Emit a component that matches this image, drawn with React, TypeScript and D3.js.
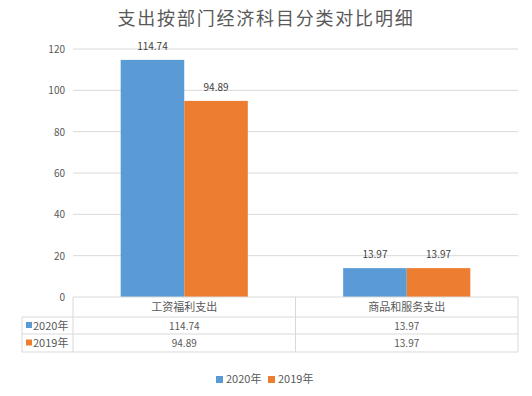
import { useEffect, useRef } from 'react'
import * as d3 from 'd3'

const title = '支出按部门经济科目分类对比明细'
const categories = ['工资福利支出', '商品和服务支出']
const seriesNames = ['2020年', '2019年']
const values2020 = [114.74, 13.97]
const values2019 = [94.89, 13.97]
const yTicks = [0, 20, 40, 60, 80, 100, 120]
const colors = ['#5b9bd5', '#ed7d31']

const FONT = '"Noto Sans CJK SC", "Noto Sans", sans-serif'

function App() {
    const ref = useRef<SVGSVGElement>(null)

    useEffect(() => {
        const svg = d3.select(ref.current)
        svg.selectAll('*').remove()

        const left = 73
        const right = 518
        const top = 49
        const bottom = 297
        const tableLeft = 22
        const rowLines = [297, 317, 334, 352]
        const series = [values2020, values2019]

        const x = d3.scaleBand().domain(categories).range([left, right])
        // Excel gap width 150% -> half a bar gap on each side of 1.5 bars
        const xInner = d3
            .scaleBand()
            .domain(seriesNames)
            .range([0, x.bandwidth()])
            .paddingOuter(0.75)
            .paddingInner(0)
        const y = d3.scaleLinear().domain([0, 120]).range([bottom, top])

        svg
            .append('text')
            .attr('x', 266)
            .attr('y', 25)
            .attr('text-anchor', 'middle')
            .style('font-family', FONT)
            .style('font-size', '18px')
            .style('letter-spacing', '1.8px')
            .style('fill', '#595959')
            .text(title)

        // grid
        svg
            .append('g')
            .selectAll('line')
            .data(yTicks.filter(d => d > 0))
            .enter()
            .append('line')
            .attr('x1', left)
            .attr('x2', right)
            .attr('y1', d => y(d))
            .attr('y2', d => y(d))
            .style('stroke', '#d9d9d9')
            .style('stroke-width', 1)

        svg
            .append('g')
            .selectAll('text')
            .data(yTicks)
            .enter()
            .append('text')
            .attr('x', 65)
            .attr('y', d => y(d) + 4)
            .attr('text-anchor', 'end')
            .style('font-family', FONT)
            .style('font-size', '10px')
            .style('fill', '#595959')
            .text(d => d)

        // bars
        series.forEach((vals, si) => {
            const g = svg.append('g')
            g.selectAll('rect')
                .data(vals)
                .enter()
                .append('rect')
                .attr('x', (d, i) => (x(categories[i]) as number) + (xInner(seriesNames[si]) as number))
                .attr('y', d => y(d))
                .attr('width', xInner.bandwidth())
                .attr('height', d => bottom - y(d))
                .style('fill', colors[si])
            g.selectAll('text')
                .data(vals)
                .enter()
                .append('text')
                .attr('x', (d, i) => (x(categories[i]) as number) + (xInner(seriesNames[si]) as number) + xInner.bandwidth() / 2)
                .attr('y', d => y(d) - 10)
                .attr('text-anchor', 'middle')
                .style('font-family', FONT)
                .style('font-size', '10px')
                .style('fill', '#404040')
                .text(d => d.toFixed(2))
        })

        // data table
        const grid = svg.append('g').style('stroke', '#d9d9d9').style('stroke-width', 1)
        rowLines.forEach((ry, i) => {
            grid
                .append('line')
                .attr('x1', i === 0 ? left : tableLeft)
                .attr('x2', right)
                .attr('y1', ry)
                .attr('y2', ry)
        })
        const cols = [left, ...categories.map(c => (x(c) as number) + x.bandwidth())]
        cols.forEach(cx => {
            grid
                .append('line')
                .attr('x1', cx)
                .attr('x2', cx)
                .attr('y1', rowLines[0])
                .attr('y2', rowLines[3])
        })
        grid
            .append('line')
            .attr('x1', tableLeft)
            .attr('x2', tableLeft)
            .attr('y1', rowLines[1])
            .attr('y2', rowLines[3])

        svg
            .append('g')
            .selectAll('text')
            .data(categories)
            .enter()
            .append('text')
            .attr('x', d => (x(d) as number) + x.bandwidth() / 2)
            .attr('y', (rowLines[0] + rowLines[1]) / 2 + 4)
            .attr('text-anchor', 'middle')
            .style('font-family', FONT)
            .style('font-size', '11px')
            .style('fill', '#595959')
            .text(d => d)

        series.forEach((vals, si) => {
            const cy = (rowLines[si + 1] + rowLines[si + 2]) / 2
            const row = svg.append('g')
            row.append('rect')
                .attr('x', 26)
                .attr('y', cy - 3.5)
                .attr('width', 6)
                .attr('height', 6)
                .style('fill', colors[si])
            row.append('text')
                .attr('x', 33)
                .attr('y', cy + 4)
                .style('font-family', FONT)
                .style('font-size', '11px')
                .style('fill', '#595959')
                .text(seriesNames[si])
            row.selectAll('text.v')
                .data(vals)
                .enter()
                .append('text')
                .attr('class', 'v')
                .attr('x', (d, i) => (x(categories[i]) as number) + x.bandwidth() / 2)
                .attr('y', cy + 4)
                .attr('text-anchor', 'middle')
                .style('font-family', FONT)
                .style('font-size', '10px')
                .style('fill', '#595959')
                .text(d => d.toFixed(2))
        })

        // legend
        const legendX = [216, 268]
        seriesNames.forEach((name, si) => {
            svg.append('rect')
                .attr('x', legendX[si])
                .attr('y', 376)
                .attr('width', 7)
                .attr('height', 7)
                .style('fill', colors[si])
            svg.append('text')
                .attr('x', legendX[si] + 10)
                .attr('y', 383)
                .style('font-family', FONT)
                .style('font-size', '11px')
                .style('fill', '#595959')
                .text(name)
        })
    }, [])

    return (
        <svg
            ref={ref}
            width={532}
            height={396}
            style={{ position: 'absolute', left: 0, top: 0, background: '#fff' }}
        />
    )
}

export default App
